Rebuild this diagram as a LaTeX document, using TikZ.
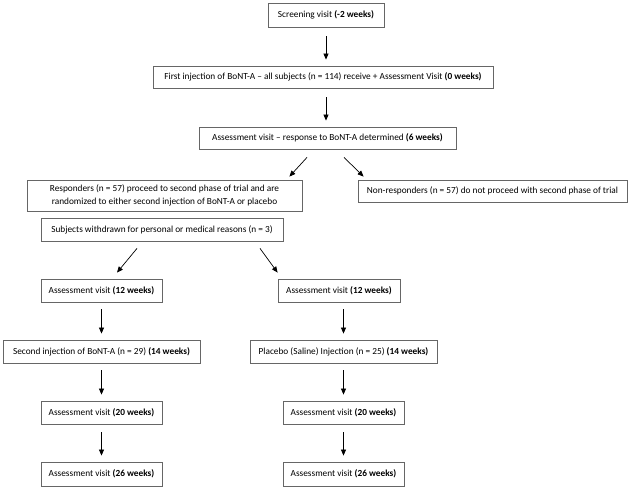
\documentclass[tikz,border=0pt]{standalone}
\usepackage{fontspec}
\setmainfont{Carlito}
\usetikzlibrary{arrows.meta}

\begin{document}
\begin{tikzpicture}[x=1pt,y=-1pt,
    box/.style={draw=black!60, line width=0.8pt, inner xsep=3pt, inner ysep=2pt,
        minimum height=23pt, align=center, font=\fontsize{9.3}{12.8}\selectfont},
    arr/.style={-{Triangle[length=6pt,width=5pt]}, line width=0.7pt}]

    % page frame
    \useasboundingbox (0,0) rectangle (632,489);

    % First phase
    \node[box, minimum width=116pt, minimum height=24pt] (screen) at (326,15) {Screening visit \textbf{(-2 weeks)}};
    \node[box, minimum width=340pt, minimum height=22pt] (first) at (323,77) {First injection of BoNT-A – all subjects (n = 114) receive + Assessment Visit \textbf{(0 weeks)}};
    \node[box, minimum width=257pt, minimum height=22pt] (assess6) at (327.5,138) {Assessment visit – response to BoNT-A determined \textbf{(6 weeks)}};

    % Split after 6 weeks
    \node[box, minimum width=275pt, minimum height=31pt] (resp) at (164.5,195.5) {Responders (n = 57) proceed to second phase of trial and are\\randomized to either second injection of BoNT-A or placebo};
    \node[box, minimum width=269pt, minimum height=22pt] (nonresp) at (492.5,191) {Non-responders (n = 57) do not proceed with second phase of trial};
    \node[box, minimum width=242pt] (withdrawn) at (162,229.5) {Subjects withdrawn for personal or medical reasons (n = 3)};

    % BoNT-A arm
    \node[box, minimum width=121pt] (Lvisit12) at (101.5,290.5) {Assessment visit \textbf{(12 weeks)}};
    \node[box, minimum width=197pt] (Linj) at (101.5,351.5) {Second injection of BoNT-A (n = 29) \textbf{(14 weeks)}};
    \node[box, minimum width=121pt] (Lvisit20) at (101.5,412.5) {Assessment visit \textbf{(20 weeks)}};
    \node[box, minimum width=121pt, minimum height=24pt] (Lvisit26) at (101.5,474) {Assessment visit \textbf{(26 weeks)}};

    % Placebo arm
    \node[box, minimum width=122pt] (Rvisit12) at (339,290.5) {Assessment visit \textbf{(12 weeks)}};
    \node[box, minimum width=187pt] (Rinj) at (343.5,351.5) {Placebo (Saline) Injection (n = 25) \textbf{(14 weeks)}};
    \node[box, minimum width=121pt] (Rvisit20) at (343.5,412.5) {Assessment visit \textbf{(20 weeks)}};
    \node[box, minimum width=121pt, minimum height=24pt] (Rvisit26) at (343.5,474) {Assessment visit \textbf{(26 weeks)}};

    % Arrows down the top
    \draw[arr] ([yshift=-9pt]screen.south) -- ([yshift=6pt]screen.south |- first.north);
    \draw[arr] ([xshift=3pt,yshift=-9pt]first.south) -- ([xshift=3pt,yshift=6pt]first.south |- assess6.north);

    % Diagonal arrows
    \draw[arr] ([xshift=-20.5pt,yshift=-8pt]assess6.south) -- ([xshift=-13pt,yshift=3pt]resp.north east);
    \draw[arr] ([xshift=16.5pt,yshift=-8pt]assess6.south) -- ([xshift=6pt,yshift=3pt]nonresp.north west);
    \draw[arr] ([xshift=-25pt,yshift=-7pt]withdrawn.south) -- ([xshift=15.5pt,yshift=6pt]Lvisit12.north);
    \draw[arr] ([xshift=98pt,yshift=-7pt]withdrawn.south) -- ([yshift=6pt]Rvisit12.north west);

    % Column arrows
    \draw[arr] ([yshift=-7pt]Lvisit12.south) -- ([yshift=6pt]Linj.north);
    \draw[arr] ([yshift=-7pt]Linj.south) -- ([yshift=6pt]Lvisit20.north);
    \draw[arr] ([yshift=-8pt]Lvisit20.south) -- ([yshift=6pt]Lvisit26.north);
    \draw[arr] ([yshift=-7pt]Rvisit12.south -| Rinj.north) -- ([yshift=6pt]Rinj.north);
    \draw[arr] ([yshift=-7pt]Rinj.south) -- ([yshift=6pt]Rvisit20.north);
    \draw[arr] ([yshift=-8pt]Rvisit20.south) -- ([yshift=6pt]Rvisit26.north);

\end{tikzpicture}
\end{document}
